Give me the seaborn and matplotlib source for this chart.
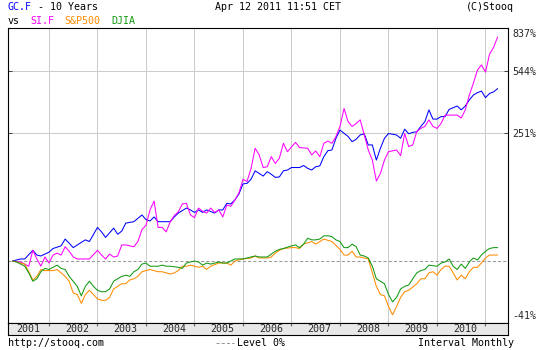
import numpy as np
import pandas as pd
import matplotlib
matplotlib.use("Agg")
import matplotlib.pyplot as plt
import seaborn as sns
from matplotlib.lines import Line2D

# monthly readings, month 0 = Apr 2001, values in % change
gc_months = [0,2,3,5,6,7,9,10,12,13,14,15,17,18,19,21,22,23,25,26,27,28,29,30,32,33,34,35,36,39,
             40,41,43,44,45,46,47,48,50,51,52,53,54,55,56,57,58,59,60,61,62,63,64,65,66,67,68,69,71,72,
             73,74,75,76,77,78,79,80,81,83,84,85,86,87,88,89,90,91,92,93,95,96,97,98,99,100,101,102,103,104,
             105,106,107,108,110,111,112,113,114,115,116,117,118,119,120]
gc_pct = [0,2,2,11,6,5,9,13,16,24,19,14,20,23,21,39,33,26,38,30,34,45,46,47,57,50,48,54,47,47,
          54,60,68,65,61,65,61,65,60,65,65,76,75,82,93,113,114,123,142,136,130,140,134,127,128,142,144,150,150,155,
          148,144,152,154,178,195,197,233,261,239,222,230,244,248,212,212,169,202,233,249,244,233,264,248,253,255,274,292,340,302,
          302,312,312,342,357,340,357,385,409,421,429,396,417,425,442]

si_months = [0,2,4,5,6,7,8,9,10,11,12,13,14,15,16,18,19,21,22,23,24,25,26,27,28,30,31,32,33,34,
             35,36,37,38,39,40,41,42,43,44,45,46,47,48,49,50,51,52,53,54,55,56,57,58,59,60,61,62,63,64,
             65,66,67,68,70,71,73,74,75,76,77,78,79,80,81,82,83,84,85,86,87,88,89,90,91,92,93,95,96,97,
             98,99,100,101,102,103,104,105,106,107,109,110,111,112,113,114,115,116,117,118,119,120]
si_pct = [0,-1,-5,11,2,-5,4,-2,6,8,6,15,10,4,2,2,2,11,6,2,7,4,5,17,17,15,21,36,42,65,
          80,39,39,33,47,56,62,75,76,57,53,68,63,60,68,61,65,54,73,71,82,95,123,118,148,202,183,150,152,178,
          160,174,217,192,220,204,202,183,194,178,217,224,217,239,274,346,292,274,285,299,244,197,169,119,136,169,192,197,181,249,
          207,212,256,267,274,299,274,267,285,318,318,318,306,340,409,471,550,584,537,660,712,799]

sp_months = [0,1,3,4,5,6,7,8,10,11,12,13,14,15,16,17,18,19,20,21,22,23,24,25,26,27,28,29,30,31,
             32,33,34,36,37,38,39,40,41,42,43,44,46,47,48,49,51,52,53,54,55,56,57,59,60,61,63,64,65,66,
             67,69,70,71,72,74,75,76,77,79,81,82,83,84,85,86,88,89,90,91,92,93,94,95,96,97,98,100,101,102,
             103,104,105,106,107,108,109,110,111,112,113,114,115,116,117,118,120]
sp_pct = [0,-1,-3,-10,-17,-14,-8,-9,-9,-8,-11,-14,-18,-27,-28,-34,-28,-25,-28,-31,-32,-32,-30,-24,-22,-20,-20,-17,-16,-14,
          -10,-9,-8,-10,-10,-11,-12,-11,-9,-5,-5,-4,-6,-5,-8,-5,-2,-2,-2,-4,0,1,2,3,5,3,3,4,8,11,
          13,14,14,13,18,21,18,21,24,21,12,6,6,10,4,4,2,-11,-22,-28,-29,-36,-41,-36,-30,-26,-25,-20,-16,-16,
          -11,-10,-13,-8,-5,-5,-11,-17,-13,-16,-10,-6,-6,-2,3,6,6]

dj_months = [0,1,3,4,5,6,7,8,9,10,11,12,13,14,16,17,18,19,20,21,22,23,24,25,26,27,28,29,30,31,
             32,33,34,36,37,38,39,41,42,43,44,45,46,47,48,49,51,52,53,54,55,57,58,59,60,61,62,63,65,66,
             67,69,70,71,72,73,74,75,76,77,78,79,80,81,82,83,84,85,86,87,88,89,90,91,92,93,94,95,96,97,
             98,99,100,101,102,103,105,106,107,108,109,110,111,112,113,114,115,116,117,118,119,120]
dj_pct = [0,-1,-5,-11,-18,-16,-10,-7,-8,-6,-4,-7,-8,-14,-22,-29,-22,-18,-22,-25,-26,-26,-24,-18,-16,-14,-13,-14,-10,-8,
          -3,-2,-5,-5,-4,-5,-5,-6,-7,-2,-1,0,-1,-4,-2,-3,-1,-2,-2,0,2,2,3,4,5,4,4,4,10,12,
          13,16,17,14,18,25,23,23,24,28,28,27,23,21,14,14,18,15,6,5,3,-5,-16,-18,-20,-28,-33,-30,-24,-22,
          -21,-16,-11,-9,-8,-4,-5,-2,-1,2,-5,-8,-3,-7,-1,3,1,6,10,13,14,14]

years = list(range(2001, 2011))
level_ticks = [251, 544]
edge_ticks = [-41, 837]

BLUE, MAGENTA, ORANGE, GREEN = "#0000ff", "#ff00ff", "#ff8c00", "#119911"

sns.set_style("white")
plt.rcParams['font.family'] = ['DejaVu Sans Mono']
FS = 7.2


def to_frame(months, pct):
    return pd.DataFrame({"t": 2001.25 + np.array(months) / 12.0,
                         "level": 1 + np.array(pct) / 100.0})


def px(x, y):
    return x / 550, 1 - y / 350


fig = plt.figure(figsize=(5.5, 3.5), dpi=100)
ax = fig.add_axes([8 / 550, (350 - 322.7) / 350, 500 / 550, (322.7 - 28) / 350])
strip = fig.add_axes([8 / 550, 15 / 350, 500 / 550, 12.3 / 350])

ax.axhline(1, color="#999999", ls=(0, (3, 2)), lw=0.75, zorder=1)
for months, pct, col in [(gc_months, gc_pct, BLUE), (si_months, si_pct, MAGENTA),
                         (sp_months, sp_pct, ORANGE), (dj_months, dj_pct, GREEN)]:
    sns.lineplot(data=to_frame(months, pct), x="t", y="level", ax=ax,
                 color=col, linewidth=0.75, legend=False)

ax.set_yscale("log")
ax.set_xlim(2001.155, 2011.464)
ax.set_ylim(0.546, 9.82)
ax.set_xticks(range(2002, 2012))
ax.set_xticklabels([])
ax.set_yticks([1 + v / 100 for v in level_ticks])
ax.set_yticklabels([f"{v}%" for v in level_ticks])
ax.set_yticks([1 + v / 100 for v in edge_ticks], minor=True)
ax.set_yticklabels([f"{v}%" for v in edge_ticks], minor=True)
ax.grid(True, which="major", color="#cccccc", lw=0.75)
ax.grid(False, which="minor")
ax.tick_params(axis="x", length=0)
ax.tick_params(axis="y", which="major", left=True, right=True, direction="in", length=3,
               width=0.75, color="#444444", labelleft=False, labelright=True, labelsize=FS, pad=3.4)
ax.tick_params(axis="y", which="minor", left=False, right=True, length=0,
               labelleft=False, labelright=True, labelsize=FS, pad=3.4)
ax.set_xlabel("")
ax.set_ylabel("")
for s in ax.spines.values():
    s.set_color("black")
    s.set_linewidth(0.8)

strip.set_facecolor("#e8e8e8")
strip.set_xlim(2001.155, 2011.464)
strip.set_ylim(0, 1)
strip.set_yticks([])
strip.set_xticks(range(2002, 2012))
strip.tick_params(axis="x", bottom=False, top=True, direction="in", length=2,
                  color="#666666", labelbottom=False)
for s in strip.spines.values():
    s.set_color("black")
    s.set_linewidth(0.8)
for y in years:
    strip.text(y + 0.58, 0.45, str(y), ha="center", va="center", fontsize=FS)

# header
fig.text(*px(8, 7), "GC.F", color=BLUE, fontsize=FS, va="center")
fig.text(*px(32, 7), " - 10 Years", color="black", fontsize=FS, va="center")
fig.text(*px(215, 7), "Apr 12 2011 11:51 CET", color="black", fontsize=FS, va="center")
fig.text(*px(514, 7), "(C)Stooq", color="black", fontsize=FS, va="center", ha="right")
fig.text(*px(8, 20.5), "vs", color="black", fontsize=FS, va="center")
fig.text(*px(30, 20.5), "SI.F", color=MAGENTA, fontsize=FS, va="center")
fig.text(*px(64, 20.5), "S&P500", color=ORANGE, fontsize=FS, va="center")
fig.text(*px(111, 20.5), "DJIA", color=GREEN, fontsize=FS, va="center")

# footer
fig.text(*px(8, 343), "http://stooq.com", color="black", fontsize=FS, va="center")
x0, yl = px(216, 343)
x1, _ = px(234, 343)
fig.add_artist(Line2D([x0, x1], [yl, yl], transform=fig.transFigure,
                      color="#999999", ls=(0, (3, 2)), lw=0.75))
fig.text(*px(237, 343), "Level 0%", color="black", fontsize=FS, va="center")
fig.text(*px(514, 343), "Interval Monthly", color="black", fontsize=FS, va="center", ha="right")

fig.savefig("out.png", dpi=100)
